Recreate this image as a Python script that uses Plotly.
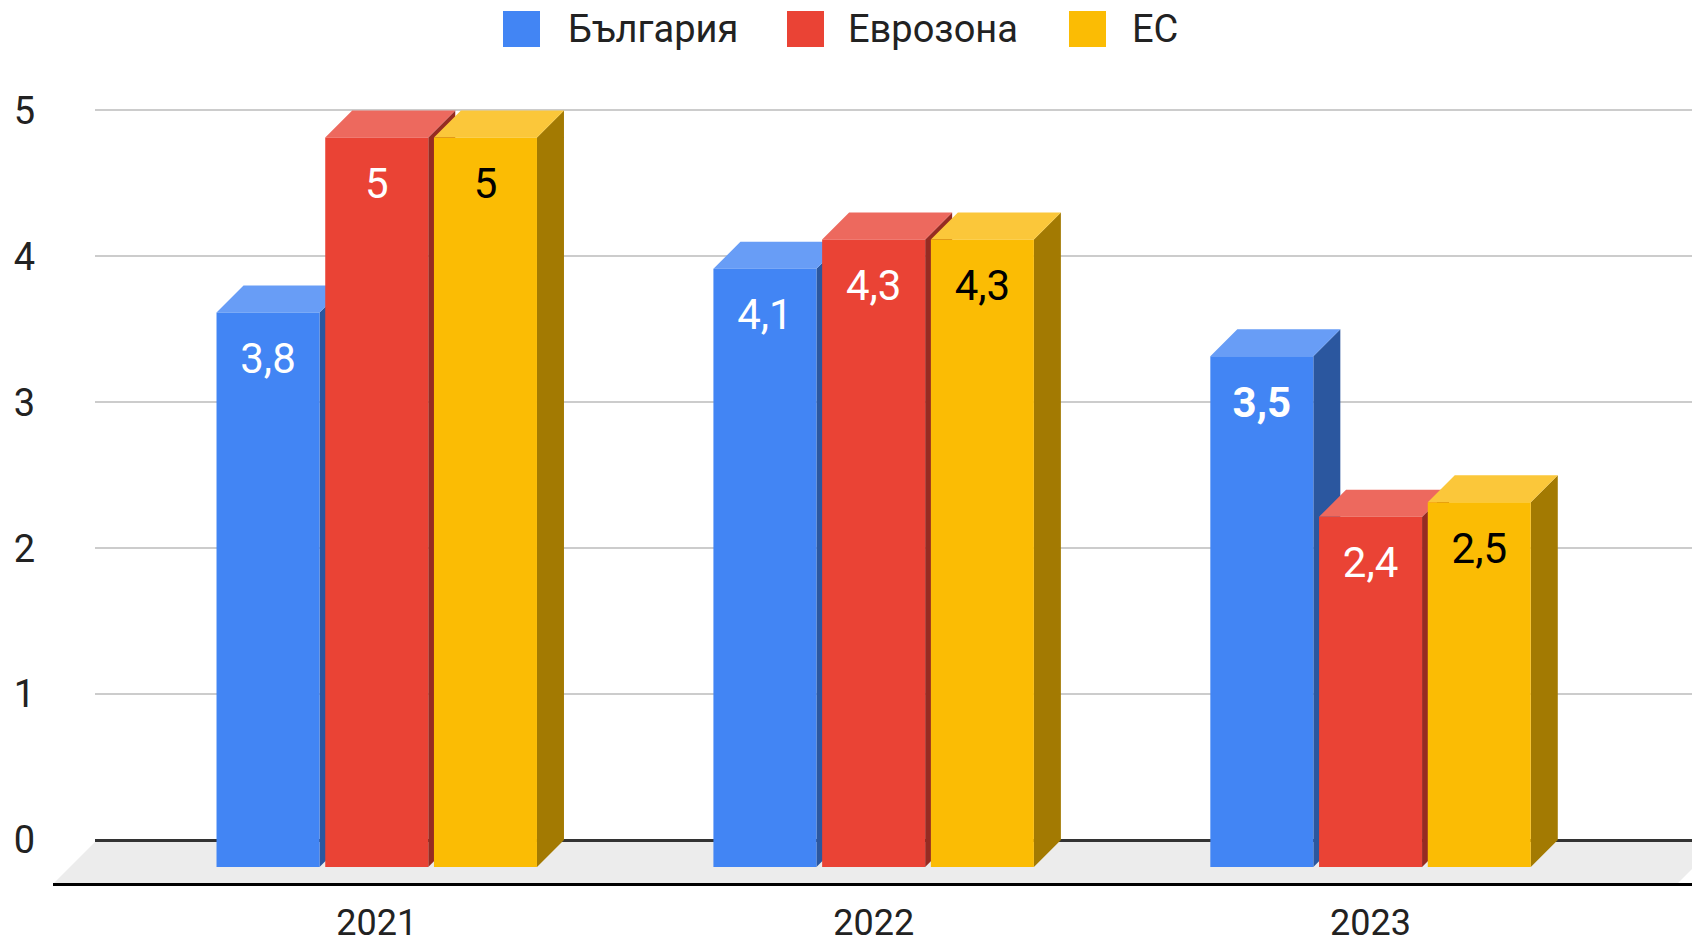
import plotly.graph_objects as go

# ---------------- data ----------------
YEARS = ["2021", "2022", "2023"]
SERIES = ["България", "Еврозона", "ЕС"]
BULGARIA = [3.8, 4.1, 3.5]
EUROZONE = [5.0, 4.3, 2.4]
EU = [5.0, 4.3, 2.5]
Y_TICKS = [0, 1, 2, 3, 4, 5]

VALUES = [BULGARIA, EUROZONE, EU]

# ---------------- style ----------------
FRONT = ["#4285F4", "#EA4335", "#FBBC04"]
TOP = ["#689DF6", "#ED695E", "#FBC73A"]
SIDE = ["#2B579F", "#962B22", "#A37A02"]
LABEL_COLOR = ["#FFFFFF", "#FFFFFF", "#000000"]
BOLD_LABELS = {("България", "2023")}
FONT = "Roboto"

PAGE_W, PAGE_H = 1700, 939
BODY_MARGIN = 8                      # default page body margin
W, H = PAGE_W - BODY_MARGIN, PAGE_H - BODY_MARGIN
PL, PR, PT, PB = 95, 1700, 80, 884   # plot area in page pixels
X_RANGE = [-0.567, 2.663]
Y_RANGE = [-0.3016, 5.209]
SLOT = 0.2188
BAR_W = 0.2073
DEPTH_PX = 27
LABEL_DROP_PX = 50

x_per_px = (X_RANGE[1] - X_RANGE[0]) / (PR - PL)
y_per_px = (Y_RANGE[1] - Y_RANGE[0]) / (PB - PT)
DX = DEPTH_PX * x_per_px
DY = DEPTH_PX * y_per_px


def px_x(p):
    return (p - PL) / (PR - PL)


def px_y(p):
    return (PB - p) / (PB - PT)


def fmt(v):
    return f"{v:g}".replace(".", ",")


fig = go.Figure()

n = len(SERIES)
for s, (name, vals) in enumerate(zip(SERIES, VALUES)):
    fx, fy, tx, ty, sx, sy = [], [], [], [], [], []
    lx, ly, lt = [], [], []
    for i, v in enumerate(vals):
        c = i + (s - (n - 1) / 2) * SLOT
        xl, xr = c - BAR_W / 2, c + BAR_W / 2
        base, top = -DY, v - DY
        # side face
        sx += [xr, xr + DX, xr + DX, xr, xr, None]
        sy += [base, 0, v, top, base, None]
        # top face
        tx += [xl, xr, xr + DX, xl + DX, xl, None]
        ty += [top, top, v, v, top, None]
        # front face
        fx += [xl, xr, xr, xl, xl, None]
        fy += [base, base, top, top, base, None]
        lx.append(c)
        ly.append(top - LABEL_DROP_PX * y_per_px)
        t = fmt(v)
        if (name, YEARS[i]) in BOLD_LABELS:
            t = f"<b>{t}</b>"
        lt.append(t)
    for xs, ys, col in ((sx, sy, SIDE[s]), (tx, ty, TOP[s]), (fx, fy, FRONT[s])):
        fig.add_trace(go.Scatter(
            x=xs, y=ys, mode="lines", fill="toself", fillcolor=col,
            line=dict(width=0, color=col), hoverinfo="skip", showlegend=False,
            name=name))
    fig.add_trace(go.Scatter(
        x=lx, y=ly, mode="text", text=lt, textposition="middle center",
        textfont=dict(family=FONT, size=42, color=LABEL_COLOR[s]),
        showlegend=False, hoverinfo="skip", cliponaxis=False))

shapes = []
# floor
fl = [(53, 884), (97, 840), (1721, 840), (1677, 884)]
path = "M " + " L ".join(f"{px_x(a)},{px_y(b)}" for a, b in fl) + " Z"
shapes.append(dict(type="path", path=path, xref="paper", yref="paper",
                   fillcolor="#ECECEC", line=dict(width=0), layer="below"))
# front floor edge line
shapes.append(dict(type="line", xref="paper", yref="paper",
                   x0=px_x(53), x1=1, y0=px_y(884.5), y1=px_y(884.5),
                   line=dict(color="#000000", width=3), layer="above"))

# legend (custom, larger squares)
LEG_SQ = [(503, 540), (787, 824), (1069, 1106)]
LEG_TX = [566, 846, 1130]
annotations = []
for s, name in enumerate(SERIES):
    a, b = LEG_SQ[s]
    shapes.append(dict(type="rect", xref="paper", yref="paper",
                       x0=px_x(a), x1=px_x(b), y0=px_y(47), y1=px_y(11),
                       fillcolor=FRONT[s], line=dict(width=0)))
    annotations.append(dict(xref="paper", yref="paper", x=px_x(LEG_TX[s]), y=px_y(29),
                            xanchor="left", yanchor="middle", showarrow=False,
                            text=name, font=dict(family=FONT, size=38, color="#222222")))

fig.update_layout(
    width=W, height=H,
    margin=dict(l=PL - BODY_MARGIN, r=PAGE_W - PR, t=PT - BODY_MARGIN,
                b=PAGE_H - PB, pad=0, autoexpand=False),
    paper_bgcolor="#FFFFFF", plot_bgcolor="rgba(0,0,0,0)",
    showlegend=False,
    shapes=shapes, annotations=annotations,
    font=dict(family=FONT, color="#222222"),
    xaxis=dict(range=X_RANGE, tickvals=list(range(len(YEARS))), ticktext=YEARS,
               showgrid=False, zeroline=False, showline=False, ticks="",
               tickfont=dict(family=FONT, size=36, color="#222222"),
               ticklabelstandoff=14, fixedrange=True, automargin=False),
    yaxis=dict(range=Y_RANGE, tickvals=Y_TICKS, ticktext=[str(t) for t in Y_TICKS],
               showgrid=True, gridcolor="#CCCCCC", gridwidth=2,
               zeroline=True, zerolinecolor="#333333", zerolinewidth=3,
               showline=False, ticks="",
               tickfont=dict(family=FONT, size=38, color="#222222"),
               ticklabelstandoff=59, fixedrange=True, automargin=False),
)

fig.write_html("out.html")
